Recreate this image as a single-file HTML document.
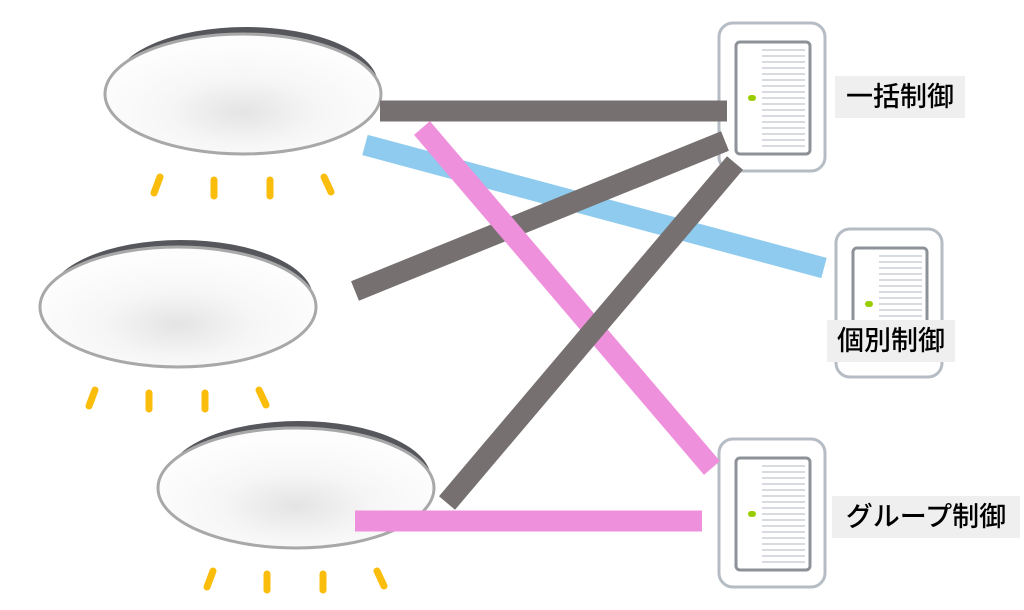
<!DOCTYPE html>
<html><head><meta charset="utf-8"><style>
html,body{margin:0;padding:0;background:#fff;width:1024px;height:610px;overflow:hidden}
.lb{position:absolute;background:#efefef;font-family:"Liberation Sans","Noto Sans CJK JP",sans-serif;font-size:27px;font-weight:500;color:#000;line-height:42px;text-align:center}
</style></head><body>
<svg width="1024" height="610" style="position:absolute;left:0;top:0">
<defs>
<radialGradient id="g" cx="0.5" cy="0.65" r="0.55">
<stop offset="0" stop-color="#e4e4e4"/><stop offset="0.5" stop-color="#f6f6f6"/><stop offset="1" stop-color="#fdfdfd"/>
</radialGradient>
<g id="sw">
<rect x="0" y="0" width="106" height="148" rx="14" fill="#fff" stroke="#b5bcc4" stroke-width="3"/>
<rect x="17" y="19" width="74" height="112" rx="4" fill="#fff" stroke="#8d9299" stroke-width="3"/>
<g stroke="#d8dbe0" stroke-width="2">
<line x1="43" y1="27" x2="86" y2="27"/><line x1="43" y1="33" x2="86" y2="33"/><line x1="43" y1="39" x2="86" y2="39"/><line x1="43" y1="45" x2="86" y2="45"/><line x1="43" y1="51" x2="86" y2="51"/><line x1="43" y1="57" x2="86" y2="57"/><line x1="43" y1="63" x2="86" y2="63"/><line x1="43" y1="69" x2="86" y2="69"/><line x1="43" y1="75" x2="86" y2="75"/><line x1="43" y1="81" x2="86" y2="81"/><line x1="43" y1="87" x2="86" y2="87"/><line x1="43" y1="93" x2="86" y2="93"/><line x1="43" y1="99" x2="86" y2="99"/><line x1="43" y1="105" x2="86" y2="105"/><line x1="43" y1="111" x2="86" y2="111"/><line x1="43" y1="117" x2="86" y2="117"/><line x1="43" y1="123" x2="86" y2="123"/>
</g>
<rect x="29" y="72" width="8" height="6" rx="3" fill="#9acd00"/>
</g>
<g id="lamp">
<ellipse cx="3" cy="-7" rx="132" ry="58" fill="#55575c"/>
<ellipse cx="0" cy="2" rx="138" ry="60" fill="url(#g)" stroke="#a8a8a8" stroke-width="3"/>
<g stroke="#fbbd0b" stroke-width="7" stroke-linecap="round">
<line x1="-83" y1="85" x2="-89" y2="101"/><line x1="-29" y1="88" x2="-29" y2="104"/><line x1="27" y1="88" x2="27" y2="104"/><line x1="81" y1="85" x2="88" y2="100"/>
</g>
</g>
</defs>
<use href="#lamp" x="243" y="92"/>
<use href="#lamp" x="178" y="305"/>
<use href="#lamp" x="296" y="486"/>
<use href="#sw" x="719" y="23"/>
<use href="#sw" x="836" y="229"/>
<use href="#sw" x="719" y="439"/>
<g stroke-width="21" stroke-linecap="butt">
<line x1="365" y1="145" x2="824" y2="268" stroke="#8ecbee"/>
<line x1="380" y1="111" x2="727" y2="111" stroke="#767170"/>
<line x1="355" y1="291" x2="725" y2="141" stroke="#767170"/>
<line x1="422" y1="128" x2="712" y2="468" stroke="#ef90dc"/>
<line x1="447" y1="503" x2="735" y2="163" stroke="#767170"/>
<line x1="355" y1="521" x2="702" y2="521" stroke="#ef90dc"/>
</g>
</svg>
<div class="lb" style="left:835px;top:76px;width:130px">一括制御</div>
<div class="lb" style="left:827px;top:320px;width:128px">個別制御</div>
<div class="lb" style="left:832px;top:496px;width:188px">グループ制御</div>
</body></html>
